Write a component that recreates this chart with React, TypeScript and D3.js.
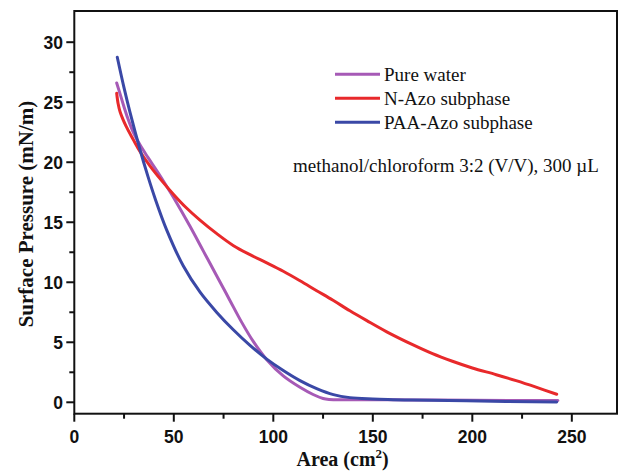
import React from "react";
import * as d3 from "d3";

const pureWaterArea = [21.3, 23, 25, 27, 29.6, 33, 37, 41.4, 46, 50.6, 58, 65, 72, 78, 84, 90, 96.7, 105, 113.4, 120, 125, 128, 140, 170, 200, 243];
const pureWaterPressure = [26.6, 25.7, 24.6, 23.6, 22.5, 21.45, 20.4, 19.3, 18.1, 16.85, 14.7, 12.55, 10.4, 8.55, 6.7, 5.05, 3.55, 2.2, 1.25, 0.65, 0.32, 0.24, 0.22, 0.2, 0.17, 0.14];

const nAzoArea = [21.3, 22, 23, 26, 29.6, 33, 38, 44, 50, 56, 63, 71.6, 80, 88.3, 96.7, 105, 113.4, 121.8, 130, 138.5, 147, 157, 170, 180, 190, 200, 212, 222, 232, 242.4];
const nAzoPressure = [25.75, 24.9, 24.2, 23.0, 21.9, 20.9, 19.7, 18.45, 17.3, 16.25, 15.2, 14.05, 13.05, 12.3, 11.62, 10.92, 10.13, 9.3, 8.5, 7.62, 6.8, 5.87, 4.8, 4.05, 3.42, 2.86, 2.3, 1.8, 1.26, 0.67];

const paaAzoArea = [21.6, 25, 28, 33, 37, 40.6, 46.4, 54.8, 63.2, 71.6, 79.9, 88.3, 96.7, 105, 113.4, 121.8, 130.2, 138.5, 150, 170, 197, 242.4];
const paaAzoPressure = [28.75, 26.2, 24.16, 21.06, 18.82, 16.98, 14.37, 11.35, 9.17, 7.49, 6.04, 4.74, 3.6, 2.65, 1.81, 1.14, 0.64, 0.39, 0.28, 0.19, 0.12, 0.02];

const seriesNames = ["Pure water", "N-Azo subphase", "PAA-Azo subphase"];
const seriesColors = ["#a65ab6", "#e8292b", "#3a48a6"];

const xTicks = [0, 50, 100, 150, 200, 250];
const xMinor = [25, 75, 125, 175, 225];
const yTicks = [0, 5, 10, 15, 20, 25, 30];
const yMinor = [2.5, 7.5, 12.5, 17.5, 22.5, 27.5];

const xTitle = "Area (cm";
const yTitle = "Surface Pressure (mN/m)";
const note = "methanol/chloroform 3:2 (V/V), 300 \u00b5L";

export default function App() {
  const left = 74.3, right = 617, top = 11, bottom = 413.7;
  const x = d3.scaleLinear().domain([0, 272.7]).range([left, right]);
  const y = d3.scaleLinear().domain([-0.95, 32.6]).range([bottom, top]);

  const series = [
    pureWaterArea.map((a, i) => [a, pureWaterPressure[i]] as [number, number]),
    nAzoArea.map((a, i) => [a, nAzoPressure[i]] as [number, number]),
    paaAzoArea.map((a, i) => [a, paaAzoPressure[i]] as [number, number]),
  ];
  const line = d3
    .line<[number, number]>()
    .x((d) => x(d[0]))
    .y((d) => y(d[1]))
    .curve(d3.curveCatmullRom.alpha(0.5));

  const tickFont = "'Liberation Sans', Arial, sans-serif";
  const serif = "'Liberation Serif', 'Times New Roman', serif";

  return (
    <svg
      width={619}
      height={471}
      style={{ position: "absolute", left: 0, top: 0, background: "#fff" }}
    >
      <rect x={0} y={0} width={619} height={471} fill="#fff" />
      {series.map((s, i) => (
        <path
          key={i}
          d={line(s) || ""}
          fill="none"
          stroke={seriesColors[i]}
          strokeWidth={3}
          strokeLinecap="round"
          strokeLinejoin="round"
        />
      ))}
      <rect
        x={left}
        y={top}
        width={right - left}
        height={bottom - top}
        fill="none"
        stroke="#111"
        strokeWidth={2}
      />
      {xTicks.map((t) => (
        <g key={"xt" + t}>
          <line x1={x(t)} x2={x(t)} y1={bottom} y2={bottom + 8} stroke="#111" strokeWidth={2} />
          <text
            x={x(t)}
            y={443}
            textAnchor="middle"
            fontFamily={tickFont}
            fontWeight="bold"
            fontSize={17.5}
            fill="#111"
          >
            {t}
          </text>
        </g>
      ))}
      {xMinor.map((t) => (
        <line key={"xm" + t} x1={x(t)} x2={x(t)} y1={bottom} y2={bottom + 5} stroke="#111" strokeWidth={2} />
      ))}
      {yTicks.map((t) => (
        <g key={"yt" + t}>
          <line x1={left - 8} x2={left} y1={y(t)} y2={y(t)} stroke="#111" strokeWidth={2} />
          <text
            x={63}
            y={y(t)}
            dy="0.36em"
            textAnchor="end"
            fontFamily={tickFont}
            fontWeight="bold"
            fontSize={17.5}
            fill="#111"
          >
            {t}
          </text>
        </g>
      ))}
      {yMinor.map((t) => (
        <line key={"ym" + t} x1={left - 5} x2={left} y1={y(t)} y2={y(t)} stroke="#111" strokeWidth={2} />
      ))}
      <text
        x={(left + right) / 2 - 3}
        y={466}
        textAnchor="middle"
        fontFamily={serif}
        fontWeight="bold"
        fontSize={20}
        fill="#111"
      >
        {xTitle}
        <tspan fontSize={13} dy={-8}>2</tspan>
        <tspan dy={8}>)</tspan>
      </text>
      <text
        transform={`translate(33, 214) rotate(-90)`}
        textAnchor="middle"
        fontFamily={serif}
        fontWeight="bold"
        fontSize={21}
        fill="#111"
      >
        {yTitle}
      </text>
      {seriesNames.map((n, i) => (
        <g key={n}>
          <line
            x1={335}
            x2={380}
            y1={74.3 + i * 24}
            y2={74.3 + i * 24}
            stroke={seriesColors[i]}
            strokeWidth={3}
          />
          <text x={384} y={81 + i * 24} fontFamily={serif} fontSize={19} fill="#111">
            {n}
          </text>
        </g>
      ))}
      <text x={293} y={172.3} fontFamily={serif} fontSize={19} fill="#111">
        {note}
      </text>
    </svg>
  );
}
